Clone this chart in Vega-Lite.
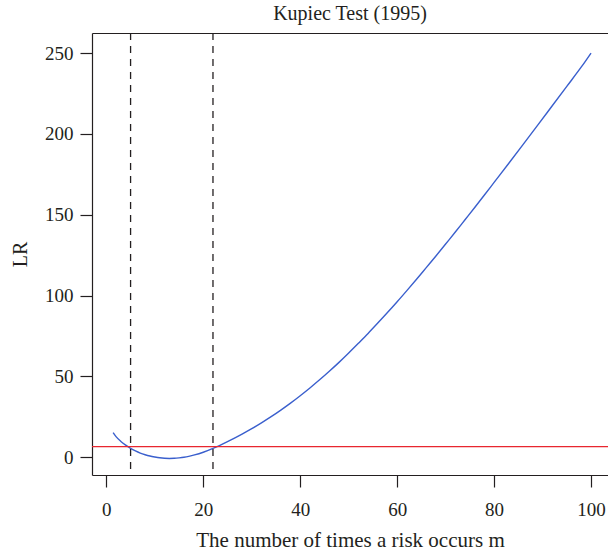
{
  "$schema": "https://vega.github.io/schema/vega-lite/v6.json",
  "width": 516,
  "height": 442,
  "autosize": {"type": "none"},
  "padding": {"left": 92, "top": 33, "right": 0, "bottom": 79},
  "background": "white",
  "title": {
    "text": "Kupiec Test (1995)",
    "anchor": "middle",
    "frame": "group",
    "baseline": "alphabetic",
    "offset": -8,
    "font": "Liberation Serif",
    "fontSize": 20,
    "fontWeight": "normal",
    "color": "#231f20"
  },
  "config": {
    "view": {"stroke": null},
    "font": "Liberation Serif",
    "title": {"font": "Liberation Serif", "fontWeight": "normal"},
    "axis": {
      "labelFont": "Liberation Serif",
      "titleFont": "Liberation Serif",
      "labelFontSize": 19,
      "titleFontSize": 20,
      "titleFontWeight": "normal",
      "labelColor": "#231f20",
      "titleColor": "#231f20",
      "domainColor": "#231f20",
      "tickColor": "#231f20",
      "domainWidth": 1.2,
      "tickWidth": 1.2,
      "grid": false
    }
  },
  "datasets": {
    "lr": [
      {"m": 1.4, "LR": 15.3},
      {"m": 2, "LR": 12.8},
      {"m": 3, "LR": 9.8},
      {"m": 4, "LR": 7.5},
      {"m": 5, "LR": 5.5},
      {"m": 6, "LR": 3.9},
      {"m": 7, "LR": 2.6},
      {"m": 8, "LR": 1.6},
      {"m": 9, "LR": 0.8},
      {"m": 10, "LR": 0.2},
      {"m": 11, "LR": -0.3},
      {"m": 12, "LR": -0.6},
      {"m": 13, "LR": -0.7},
      {"m": 14, "LR": -0.6},
      {"m": 15, "LR": -0.35},
      {"m": 16, "LR": 0.0},
      {"m": 17, "LR": 0.55},
      {"m": 18, "LR": 1.3},
      {"m": 20, "LR": 3.1},
      {"m": 22, "LR": 5.5},
      {"m": 25, "LR": 9.7},
      {"m": 28, "LR": 14.35},
      {"m": 30, "LR": 17.7},
      {"m": 32, "LR": 21.3},
      {"m": 34, "LR": 25.1},
      {"m": 36, "LR": 29.2},
      {"m": 38, "LR": 33.5},
      {"m": 40, "LR": 38.1},
      {"m": 42, "LR": 42.9},
      {"m": 44, "LR": 47.9},
      {"m": 46, "LR": 53.2},
      {"m": 48, "LR": 58.7},
      {"m": 50, "LR": 64.5},
      {"m": 52, "LR": 70.5},
      {"m": 54, "LR": 76.6},
      {"m": 56, "LR": 83.0},
      {"m": 58, "LR": 89.5},
      {"m": 60, "LR": 96.2},
      {"m": 62, "LR": 103.1},
      {"m": 64, "LR": 110.1},
      {"m": 66, "LR": 117.3},
      {"m": 68, "LR": 124.5},
      {"m": 70, "LR": 131.9},
      {"m": 72, "LR": 139.3},
      {"m": 74, "LR": 146.9},
      {"m": 76, "LR": 154.5},
      {"m": 78, "LR": 162.2},
      {"m": 80, "LR": 170.0},
      {"m": 83, "LR": 181.7},
      {"m": 86, "LR": 193.5},
      {"m": 89, "LR": 205.4},
      {"m": 92, "LR": 217.4},
      {"m": 95, "LR": 229.4},
      {"m": 98, "LR": 241.4},
      {"m": 100, "LR": 250.0}
    ],
    "cut": [{"m": 5}, {"m": 22}],
    "crit": [{"LR": 6.6}]
  },
  "layer": [
    {
      "data": {"name": "lr"},
      "mark": {"type": "line", "color": "#3a5fcd", "strokeWidth": 1.4, "interpolate": "monotone"},
      "encoding": {
        "x": {
          "field": "m",
          "type": "quantitative",
          "scale": {"domain": [-2.96, 103.5], "nice": false, "zero": false},
          "axis": {
            "orient": "bottom",
            "values": [0, 20, 40, 60, 80, 100],
            "title": "The number of times a risk occurs m",
            "titleFontSize": 21,
            "tickSize": 12,
            "labelPadding": 28,
            "labelBaseline": "alphabetic",
            "labelFlush": false,
            "labelOverlap": false,
            "titleBaseline": "alphabetic",
            "titleY": 71.7,
            "titleAnchor": "middle"
          }
        },
        "y": {
          "field": "LR",
          "type": "quantitative",
          "scale": {"domain": [-10.95, 262.4], "nice": false, "zero": false},
          "axis": {
            "orient": "left",
            "values": [0, 50, 100, 150, 200, 250],
            "title": "LR",
            "tickSize": 12,
            "labelPadding": 7,
            "labelBaseline": "middle",
            "labelFlush": false,
            "labelOverlap": false,
            "titleAngle": -90,
            "titleBaseline": "alphabetic",
            "titleX": -65.3,
            "titleAnchor": "middle"
          }
        }
      }
    },
    {
      "data": {"name": "crit"},
      "mark": {"type": "rule", "color": "#e8262f", "strokeWidth": 1.4},
      "encoding": {
        "y": {
          "field": "LR",
          "type": "quantitative",
          "scale": {"domain": [-10.95, 262.4], "nice": false, "zero": false},
          "title": "LR"
        }
      }
    },
    {
      "data": {"name": "cut"},
      "mark": {"type": "rule", "color": "#231f20", "strokeWidth": 1.3, "strokeDash": [7, 6]},
      "encoding": {
        "x": {
          "field": "m",
          "type": "quantitative",
          "scale": {"domain": [-2.96, 103.5], "nice": false, "zero": false},
          "axis": {
            "orient": "top",
            "labels": false,
            "ticks": false,
            "domain": true,
            "title": null
          }
        }
      }
    }
  ],
  "resolve": {"axis": {"x": "independent"}}
}
